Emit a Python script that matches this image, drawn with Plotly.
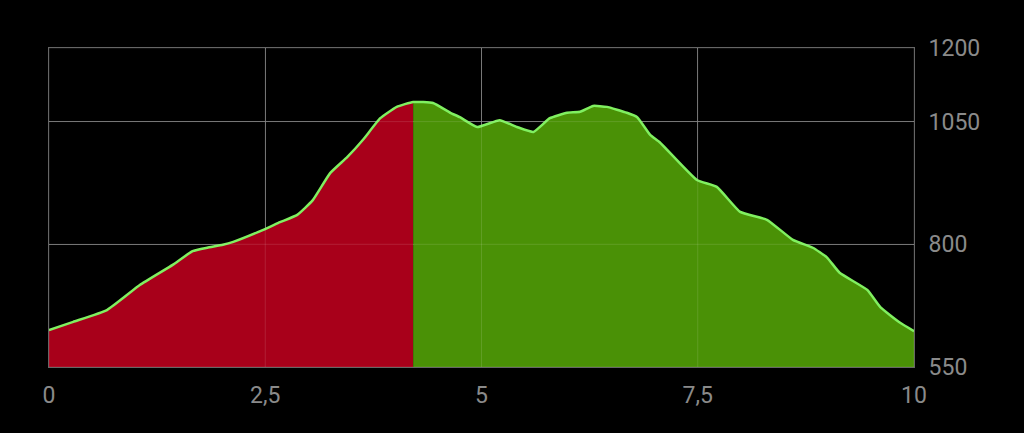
import plotly.graph_objects as go

km = [0.00, 0.28, 0.67, 1.05, 1.43, 1.66, 1.83, 2.01, 2.13, 2.47, 2.67, 2.87,
      3.05, 3.25, 3.45, 3.63, 3.83, 4.02, 4.21, 4.44, 4.64, 4.75, 4.95, 5.21,
      5.41, 5.60, 5.79, 5.99, 6.14, 6.29, 6.45, 6.68, 6.80, 6.95, 7.06, 7.49,
      7.72, 7.99, 8.30, 8.60, 8.83, 8.99, 9.14, 9.46, 9.61, 9.84, 10.00]
elev = [625, 642, 666, 717, 758, 786, 793, 799, 805, 829, 845, 860,
        890, 945, 978, 1013, 1057, 1080, 1090, 1088, 1068, 1059, 1039, 1053,
        1039, 1029, 1057, 1068, 1070, 1082, 1080, 1068, 1059, 1023, 1008, 931,
        917, 866, 850, 809, 793, 774, 742, 707, 672, 640, 623]
split_km = 4.21

x_ticks = [0, 2.5, 5, 7.5, 10]
x_labels = ["0", "2,5", "5", "7,5", "10"]
y_ticks = [550, 800, 1050, 1200]

red_x = [k for k in km if k <= split_km]
red_y = [e for k, e in zip(km, elev) if k <= split_km]
green_x = [k for k in km if k >= split_km]
green_y = [e for k, e in zip(km, elev) if k >= split_km]

fig = go.Figure()
fig.add_trace(go.Scatter(x=red_x, y=red_y, mode="lines", fill="tozeroy",
                         fillcolor="#A8001A", line=dict(width=0), hoverinfo="skip"))
fig.add_trace(go.Scatter(x=green_x, y=green_y, mode="lines", fill="tozeroy",
                         fillcolor="#4A9106", line=dict(width=0), hoverinfo="skip"))
fig.add_trace(go.Scatter(x=km, y=elev, mode="lines",
                         line=dict(color="#80F060", width=2.5, shape="spline", smoothing=0.4)))

# faint grid overlay above the fills
for xv in x_ticks:
    fig.add_shape(type="line", xref="x", yref="paper", x0=xv, x1=xv, y0=0, y1=1,
                  line=dict(color="rgba(255,255,255,0.12)", width=1), layer="above")
for yv in y_ticks:
    fig.add_shape(type="line", xref="paper", yref="y", x0=0, x1=1, y0=yv, y1=yv,
                  line=dict(color="rgba(255,255,255,0.12)", width=1), layer="above")

fig.update_layout(
    width=1024, height=433,
    margin=dict(l=49, r=110, t=48, b=66),
    paper_bgcolor="black", plot_bgcolor="black",
    showlegend=False,
    font=dict(family="Roboto, Liberation Sans, sans-serif", color="#8A8A8A", size=23),
    xaxis=dict(range=[0, 10], tickvals=x_ticks, ticktext=x_labels,
               showgrid=True, gridcolor="#666666", gridwidth=1,
               showline=True, mirror=True, linecolor="#666666", linewidth=1,
               ticks="outside", ticklen=7, tickcolor="rgba(0,0,0,0)",
               zeroline=False, fixedrange=True),
    yaxis=dict(range=[550, 1200], tickvals=y_ticks, side="right",
               showgrid=True, gridcolor="#666666", gridwidth=1,
               showline=True, mirror=True, linecolor="#666666", linewidth=1,
               ticks="outside", ticklen=9, tickcolor="rgba(0,0,0,0)",
               zeroline=False, fixedrange=True),
)

fig.write_html("out.html", config={"displayModeBar": False},
               post_script="document.body.style.margin='0';document.body.style.background='black';")
